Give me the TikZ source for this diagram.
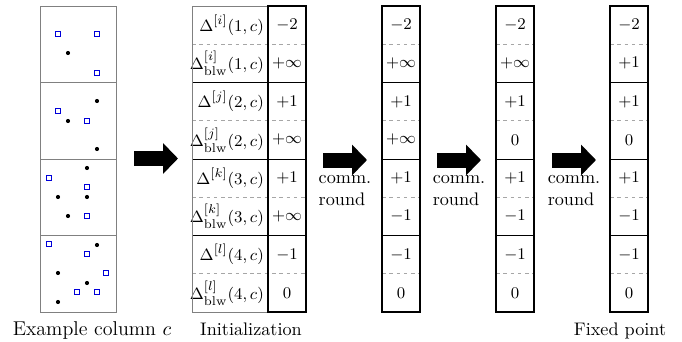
\documentclass[tikz,border=0pt]{standalone}
\usetikzlibrary{positioning,arrows.meta,calc}

\begin{document}
\begin{tikzpicture}[x=0.55pt, y=-0.55pt,
  caja/.style={draw=gray, line width=0.5pt},
  borde/.style={draw, line width=0.9pt},
  grupo/.style={draw, line width=0.5pt},
  media/.style={draw=gray!70, dash pattern=on 2pt off 2pt, line width=0.4pt},
  punto/.style={fill=black},
  marca/.style={draw=blue!85!black, line width=0.75pt},
  etiq/.style={anchor=east, inner sep=1pt, font=\fontsize{9.4}{11}\selectfont},
  valor/.style={inner sep=0pt, font=\fontsize{9}{11}\selectfont},
  flecha/.style={line width=8.25pt, -{Triangle[length=8.25pt, width=16.5pt]}},
  ronda/.style={align=left, inner sep=0pt, anchor=north},
  pie/.style={anchor=base, inner sep=0pt}]
\useasboundingbox (0,0) rectangle (682,341);
% Columna de ejemplo: cuatro celdas con puntos y marcas
\draw[caja] (40,6) rectangle (116,312);
\foreach \y in {82.5,159,235.5} \draw[caja] (40,\y) -- (116,\y);
\foreach \p in {(68,53),(97,101),(68,121),(97,149),(87,168),(58,197),(87,197),
    (68,216),(97,245),(58,273),(87,283),(58,302)}
  \fill[punto] \p circle[radius=1.15pt];
\foreach \p in {(58,34),(97,34),(97,73),(58,111),(87,121),(49,178),(87,187),
    (87,216),(49,244),(87,254),(106,273),(77,292),(97,292)}
  \draw[marca] \p ++(-2.8,-2.8) rectangle ++(5.6,5.6);
\node[pie, font=\fontsize{11}{13}\selectfont] (ejemplo) at (92,335) {Example column $c$};
% Etiquetas de la tabla inicial
\foreach \t [count=\fila] in {{\Delta^{[i]}(1,c)}, {\Delta^{[i]}_{\mathrm{blw}}(1,c)},
    {\Delta^{[j]}(2,c)}, {\Delta^{[j]}_{\mathrm{blw}}(2,c)},
    {\Delta^{[k]}(3,c)}, {\Delta^{[k]}_{\mathrm{blw}}(3,c)},
    {\Delta^{[l]}(4,c)}, {\Delta^{[l]}_{\mathrm{blw}}(4,c)}}
  \node[etiq] (lab\fila) at (266,-13.125+38.25*\fila) {$\t$};
% Valores en cada ronda
\foreach \v [count=\fila] in {-2,+\infty,+1,+\infty,+1,+\infty,-1,0}
  \node[valor] (a\fila) at (287,-13.125+38.25*\fila) {$\v$};
\foreach \v [count=\fila] in {-2,+\infty,+1,+\infty,+1,-1,-1,0}
  \node[valor] (b\fila) at (401,-13.125+38.25*\fila) {$\v$};
\foreach \v [count=\fila] in {-2,+\infty,+1,0,+1,-1,-1,0}
  \node[valor] (c\fila) at (515,-13.125+38.25*\fila) {$\v$};
\foreach \v [count=\fila] in {-2,+1,+1,0,+1,-1,-1,0}
  \node[valor] (d\fila) at (629,-13.125+38.25*\fila) {$\v$};
% Lineas de las tablas
\foreach \xa/\xb in {192/306,382/420,496/534,610/648}{
  \foreach \y in {44.25,120.75,197.25,273.75} \draw[media] (\xa,\y) -- (\xb,\y);
  \foreach \y in {82.5,159,235.5} \draw[grupo] (\xa,\y) -- (\xb,\y);
}
\draw[caja] (192,6) rectangle (268,312);
\foreach \xa in {268,382,496,610} \draw[borde] (\xa,6) rectangle ++(38,306);
\node[pie] (inicio) at (251,335) {Initialization};
\node[pie] (fijo) at (620,335) {Fixed point};
% Flechas gruesas entre tablas
\coordinate (f1a) at (134,158.5);
\coordinate (f1b) at (178,158.5);
\draw[flecha] (f1a) -- (f1b);
\foreach \xa/\n in {323/2,437/3,552/4}{
  \coordinate (f\n a) at (\xa,160);
  \coordinate (f\n b) at (\xa+44,160);
  \draw[flecha] (f\n a) -- (f\n b);
  \coordinate (m\n) at ($(f\n a)!0.5!(f\n b)$);
  \node[ronda, below=8.5pt of m\n] (r\n) {comm.\\round};
}
\end{tikzpicture}
\end{document}
